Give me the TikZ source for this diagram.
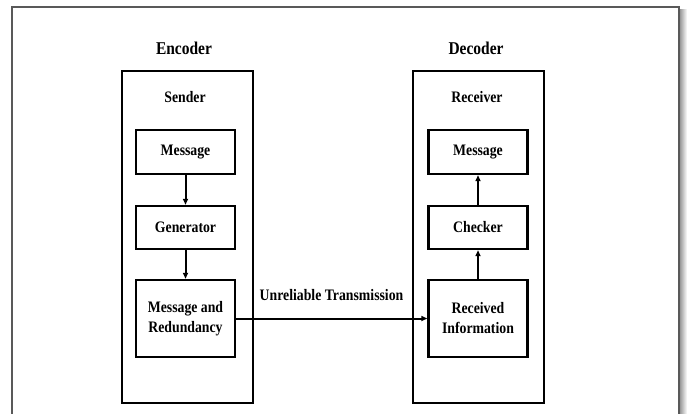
\documentclass[tikz,border=0pt]{standalone}
\usepackage{fontspec}
\setmainfont{Liberation Serif}[FakeStretch=0.86]
\usetikzlibrary{arrows.meta}
\begin{document}
\begin{tikzpicture}[x=1pt,y=-1pt,
  heading/.style={font=\fontsize{18}{20}\selectfont\bfseries, inner sep=0pt, anchor=base},
  caption/.style={font=\fontsize{16}{20}\selectfont\bfseries, inner sep=0pt, anchor=base},
  unit/.style={draw=black, line width=2.4pt, minimum width=131pt, minimum height=332pt, inner sep=0pt},
  stage/.style={draw=black, line width=2.4pt, minimum width=99pt, inner sep=0pt,
    font=\fontsize{16}{20}\selectfont\bfseries, align=center},
  flow/.style={line width=2pt, -{Triangle[length=6pt,width=5pt]}}]
\useasboundingbox (0,0) rectangle (687,414);
\fill[white] (0,0) rectangle (687,414);

% page frame with a soft shadow on its right side
\shade[left color=black!45, right color=white] (679,10) rectangle (687,414);
\draw[black!65, line width=1.5pt] (12,420) -- (12,7) -- (679,7) -- (679,420);

% encoder and decoder units
\node[heading] (enc) at (184,55) {Encoder};
\node[heading] (dec) at (476,55) {Decoder};
\node[unit] (sendbox) at (187.5,237) {};
\node[unit] (recvbox) at (478.5,237) {};
\node[caption] (sender) at (185,103) {Sender};
\node[caption] (receiver) at (477,103) {Receiver};

% sender stages
\node[stage, minimum height=44pt] (msg1) at (185.5,152) {Message};
\node[stage, minimum height=43pt] (gen) at (185.5,227.5) {Generator};
\node[stage, minimum height=77pt] (mr) at (185.5,318.5) {Message and\\Redundancy};

% receiver stages
\node[stage, minimum height=44pt] (msg2) at (478,152) {Message};
\node[stage, minimum height=43pt] (chk) at (478,227.5) {Checker};
\node[stage, minimum height=77pt] (ri) at (478,318.5) {Received\\Information};

% connectors
\draw[flow] (msg1) -- (gen);
\draw[flow] (gen) -- (mr);
\draw[flow] (ri) -- (chk);
\draw[flow] (chk) -- (msg2);
\draw[flow] (mr) -- (ri);
\node[caption] (chan) at (331.5,300.5) {Unreliable Transmission};
\end{tikzpicture}
\end{document}
